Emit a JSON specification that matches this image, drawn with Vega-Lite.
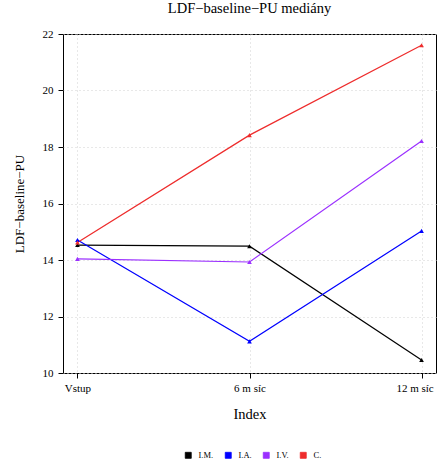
{
  "$schema": "https://vega.github.io/schema/vega-lite/v6.json",
  "width": 373,
  "height": 339,
  "autosize": {"type": "none"},
  "padding": {"left": 63, "top": 34, "right": 2, "bottom": 93},
  "background": "white",
  "config": {
    "font": "Liberation Serif",
    "view": {"stroke": "black", "strokeWidth": 1}
  },
  "title": {
    "text": "LDF−baseline−PU mediány",
    "font": "Liberation Serif",
    "fontSize": 14.5,
    "fontWeight": "normal",
    "color": "black",
    "anchor": "middle",
    "offset": 12
  },
  "data": {
    "values": [
      {"cas": "Vstup", "skupina": "I.M.", "hodnota": 14.53},
      {"cas": "6 m  síc", "skupina": "I.M.", "hodnota": 14.49},
      {"cas": "12 m  síc", "skupina": "I.M.", "hodnota": 10.46},
      {"cas": "Vstup", "skupina": "I.A.", "hodnota": 14.71},
      {"cas": "6 m  síc", "skupina": "I.A.", "hodnota": 11.12},
      {"cas": "12 m  síc", "skupina": "I.A.", "hodnota": 15.03},
      {"cas": "Vstup", "skupina": "I.V.", "hodnota": 14.04},
      {"cas": "6 m  síc", "skupina": "I.V.", "hodnota": 13.93},
      {"cas": "12 m  síc", "skupina": "I.V.", "hodnota": 18.21},
      {"cas": "Vstup", "skupina": "C.", "hodnota": 14.62},
      {"cas": "6 m  síc", "skupina": "C.", "hodnota": 18.42},
      {"cas": "12 m  síc", "skupina": "C.", "hodnota": 21.6}
    ]
  },
  "encoding": {
    "x": {
      "field": "cas",
      "type": "ordinal",
      "sort": ["Vstup", "6 m  síc", "12 m  síc"],
      "scale": {"type": "point", "padding": 0.084},
      "axis": {
        "title": "Index",
        "titleFont": "Liberation Serif",
        "titleFontSize": 14.5,
        "titleFontWeight": "normal",
        "titleColor": "black",
        "titlePadding": 14,
        "labelFont": "Liberation Serif",
        "labelFontSize": 11,
        "labelColor": "black",
        "labelAngle": 0,
        "labelPadding": 4,
        "labelFlush": false,
        "labelOffset": {"condition": {"test": "datum.value === '12 m  síc'", "value": -7}, "value": 0},
        "domain": false,
        "ticks": true,
        "tickColor": "black",
        "tickSize": 5,
        "grid": true,
        "gridColor": "#d0d0d0",
        "gridDash": [1, 3]
      }
    },
    "y": {
      "field": "hodnota",
      "type": "quantitative",
      "scale": {"domain": [10, 22], "nice": false, "zero": false},
      "axis": {
        "title": "LDF−baseline−PU",
        "titleFont": "Liberation Serif",
        "titleFontSize": 13,
        "titleFontWeight": "normal",
        "titleColor": "black",
        "titlePadding": 16,
        "values": [10, 12, 14, 16, 18, 20, 22],
        "labelFont": "Liberation Serif",
        "labelFontSize": 11,
        "labelColor": "black",
        "labelPadding": 5,
        "labelFlush": false,
        "domain": false,
        "tickColor": "black",
        "tickSize": 5,
        "grid": true,
        "gridColor": "#d0d0d0",
        "gridDash": [1, 3]
      }
    },
    "color": {
      "field": "skupina",
      "type": "nominal",
      "sort": ["I.M.", "I.A.", "I.V.", "C."],
      "scale": {
        "domain": ["I.M.", "I.A.", "I.V.", "C."],
        "range": ["#000000", "#0000ff", "#9b30ff", "#ee2c2c"]
      },
      "legend": {
        "title": null,
        "orient": "none",
        "direction": "horizontal",
        "legendX": 121,
        "legendY": 417,
        "symbolType": "square",
        "symbolSize": 36,
        "symbolStrokeColor": "black",
        "symbolStrokeWidth": 0.8,
        "labelFont": "Liberation Serif",
        "labelFontSize": 8.5,
        "labelColor": "black",
        "labelOffset": 6,
        "columnPadding": 9
      }
    }
  },
  "layer": [
    {
      "mark": {"type": "line", "strokeWidth": 1.2}
    },
    {
      "mark": {"type": "point", "shape": "triangle-up", "filled": true, "size": 22, "opacity": 1}
    }
  ]
}
